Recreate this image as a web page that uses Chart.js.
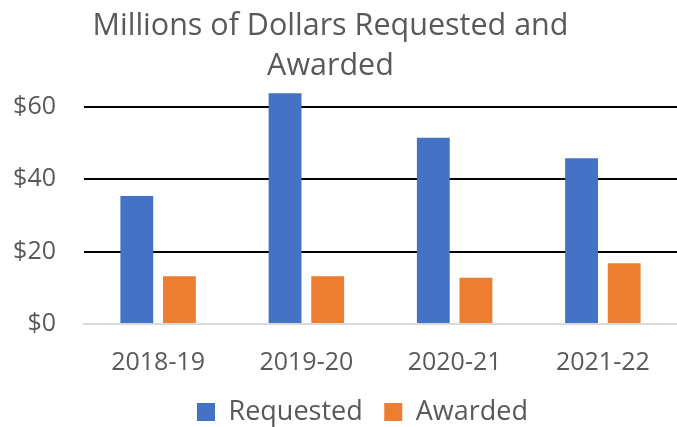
<!DOCTYPE html>
<html>
<head>
<meta charset="utf-8">
<script src="https://cdn.jsdelivr.net/npm/chart.js@4/dist/chart.umd.min.js"></script>
<style>
  html, body { margin: 0; padding: 0; background: #fff; }
  #wrap { width: 677px; height: 427px; }
</style>
</head>
<body>
<div id="wrap"><canvas id="grantChart"></canvas></div>
<script>
const years = ['2018-19', '2019-20', '2020-21', '2021-22'];
const requested = [35.4, 63.8, 51.5, 45.8];
const awarded = [13.2, 13.2, 12.8, 16.8];
const yTicks = [0, 20, 40, 60];

const textColor = '#595959';
const fontFamily = "'Open Sans', 'Liberation Sans', sans-serif";

// the original title and legend sit a little off-centre
const nudgeBoxes = {
    id: 'nudgeBoxes',
    afterLayout(chart) {
        chart.titleBlock.left -= 8;
        chart.titleBlock.right -= 8;
        chart.legend.left -= 18;
        chart.legend.right -= 18;
    }
};

document.addEventListener('DOMContentLoaded', function () {
    const ctx = document.getElementById('grantChart').getContext('2d');
    new Chart(ctx, {
        type: 'bar',
        data: {
            labels: years,
            datasets: [{
                label: 'Requested',
                data: requested,
                backgroundColor: '#4472C4',
                borderWidth: 0
            }, {
                label: 'Awarded',
                data: awarded,
                backgroundColor: '#ED7D31',
                borderWidth: 0
            }]
        },
        plugins: [nudgeBoxes],
        options: {
            responsive: true,
            maintainAspectRatio: false,
            animation: false,
            categoryPercentage: 0.575,
            barPercentage: 0.771,
            layout: { padding: { left: 0, right: 0, top: 0, bottom: -8.5 } },
            plugins: {
                title: {
                    display: true,
                    text: ['Millions of Dollars Requested and', 'Awarded'],
                    color: textColor,
                    font: { family: fontFamily, size: 30.5, weight: 'normal', lineHeight: 1.325 },
                    padding: { top: 6, bottom: 2 }
                },
                legend: {
                    position: 'bottom',
                    fullSize: false,
                    labels: {
                        color: textColor,
                        font: { family: fontFamily, size: 27 },
                        boxWidth: 18,
                        boxHeight: 18,
                        padding: 21.5
                    }
                },
                tooltip: { enabled: false }
            },
            scales: {
                x: {
                    afterFit: function (scale) {
                        scale.height = 53;
                        scale.paddingLeft = 0;
                        scale.paddingRight = 0;
                    },
                    grid: { display: false, drawTicks: false },
                    border: { display: true, color: '#d9d9d9', width: 2 },
                    ticks: {
                        color: textColor,
                        font: { family: fontFamily, size: 25, lineHeight: 0.1 },
                        padding: 38,
                        maxRotation: 0
                    }
                },
                y: {
                    min: 0,
                    max: 65,
                    afterBuildTicks: function (scale) {
                        scale.ticks = yTicks.map(v => ({ value: v }));
                    },
                    afterFit: function (scale) {
                        scale.width = 84;
                    },
                    grid: {
                        drawTicks: false,
                        color: ctx => ctx.tick && ctx.tick.value === 0 ? 'rgba(0,0,0,0)' : '#000000',
                        lineWidth: 2
                    },
                    border: { display: false },
                    ticks: {
                        color: textColor,
                        font: { family: fontFamily, size: 25 },
                        padding: 28,
                        callback: v => '$' + v
                    }
                }
            }
        }
    });
});
</script>
</body>
</html>
